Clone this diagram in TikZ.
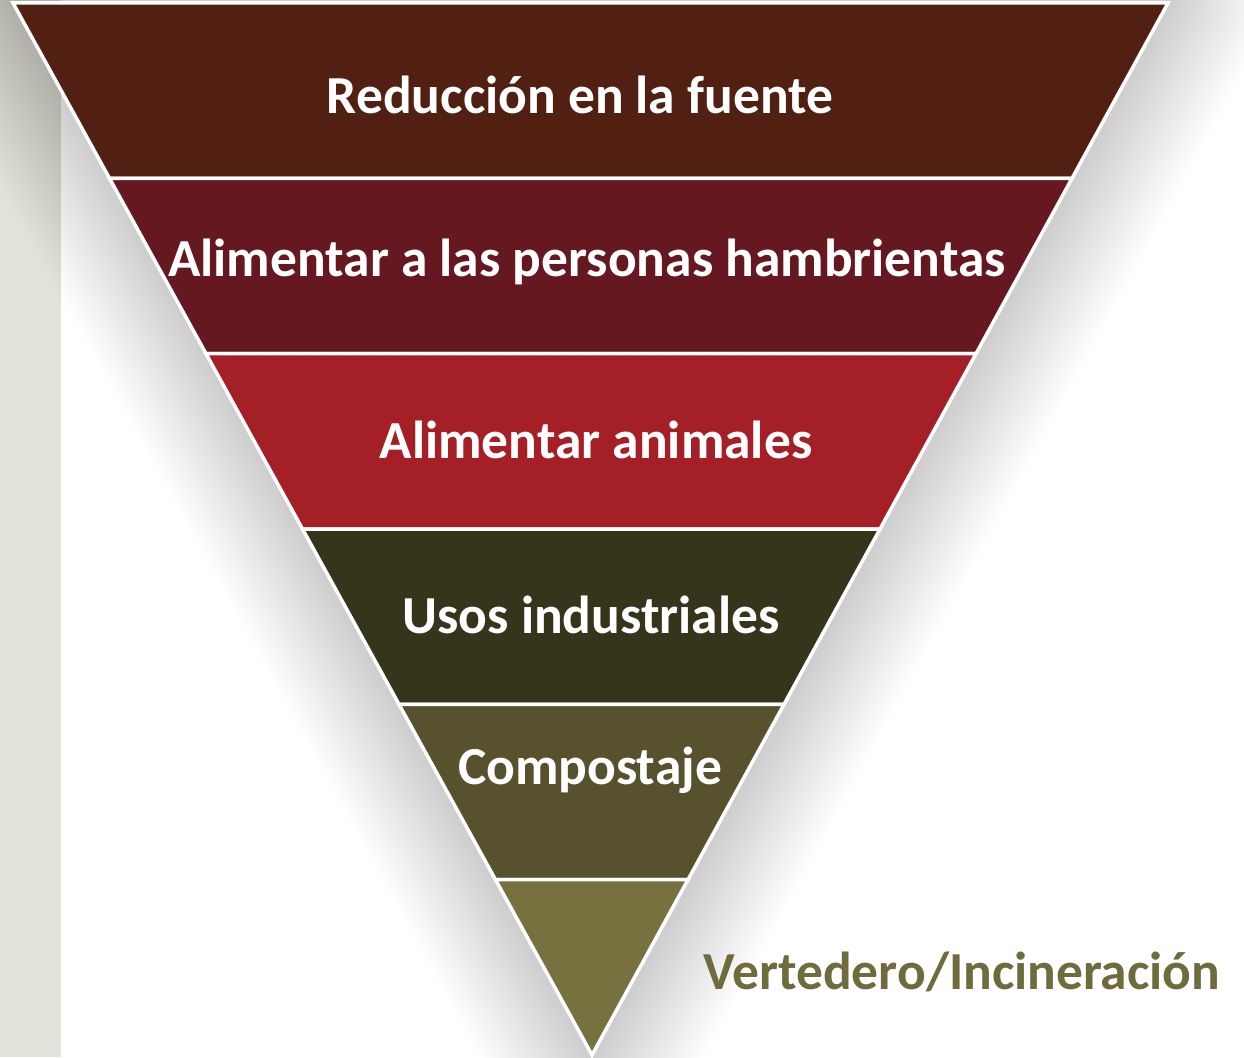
\documentclass[tikz,border=0pt]{standalone}
\usepackage{fontspec}
\setmainfont{Carlito}
\usetikzlibrary{calc}

\definecolor{reduccion}{HTML}{512012}
\definecolor{hambre}{HTML}{661820}
\definecolor{animales}{HTML}{A52026}
\definecolor{industria}{HTML}{37341C}
\definecolor{compost}{HTML}{57522D}
\definecolor{vertedero}{HTML}{76713F}
\definecolor{franja}{HTML}{E2E2DA}

\begin{document}
\begin{tikzpicture}[x=1pt, y=-1pt,
  band/.style={fill=#1, draw=white, line width=3.5pt, line join=miter},
  sombra/.style={draw=black, draw opacity=0.0055, line width=#1, line join=round},
  etiqueta/.style={text=white, font=\bfseries\fontsize{53.5}{60}\selectfont, inner sep=0pt}]
   \useasboundingbox (0,0) rectangle (1244,1057);
   \fill[franja] (0,0) rectangle (61,1057);
   \coordinate (tl) at (13,3);
   \coordinate (tr) at (1168,3);
   \coordinate (apex) at (592,1055);
   % sombra de la piramide
   \begin{scope}
      \clip (0,0) rectangle (1244,1057);
      \foreach \w in {4,8,...,200}
         \draw[sombra=\w pt, shift={(5,4)}] (tl) -- (tr) -- (apex) -- cycle;
   \end{scope}
   % franjas
   \foreach \c [count=\i from 0] in {reduccion,hambre,animales,industria,compost} {
      \pgfmathsetmacro{\a}{\i/6}
      \pgfmathsetmacro{\b}{(\i+1)/6}
      \draw[band=\c] ($(tl)!\a!(apex)$) -- ($(tr)!\a!(apex)$) -- ($(tr)!\b!(apex)$) -- ($(tl)!\b!(apex)$) -- cycle;
   }
   \draw[band=vertedero] ($(tl)!5/6!(apex)$) -- ($(tr)!5/6!(apex)$) -- (apex) -- cycle;
   % textos
   \node[etiqueta] (fuente) at (580,95) {Reducción en la fuente};
   \node[etiqueta] (personas) at (587,262) {Alimentar a las personas hambrientas};
   \node[etiqueta] (animal) at (596,440) {Alimentar animales};
   \node[etiqueta] (usos) at (591,615) {Usos industriales};
   \node[etiqueta] (compostaje) at (590,770) {Compostaje};
   \node[etiqueta, text=vertedero!95!black] (relleno) at (962,972) {Vertedero/Incineración};
 \end{tikzpicture}
\end{document}
